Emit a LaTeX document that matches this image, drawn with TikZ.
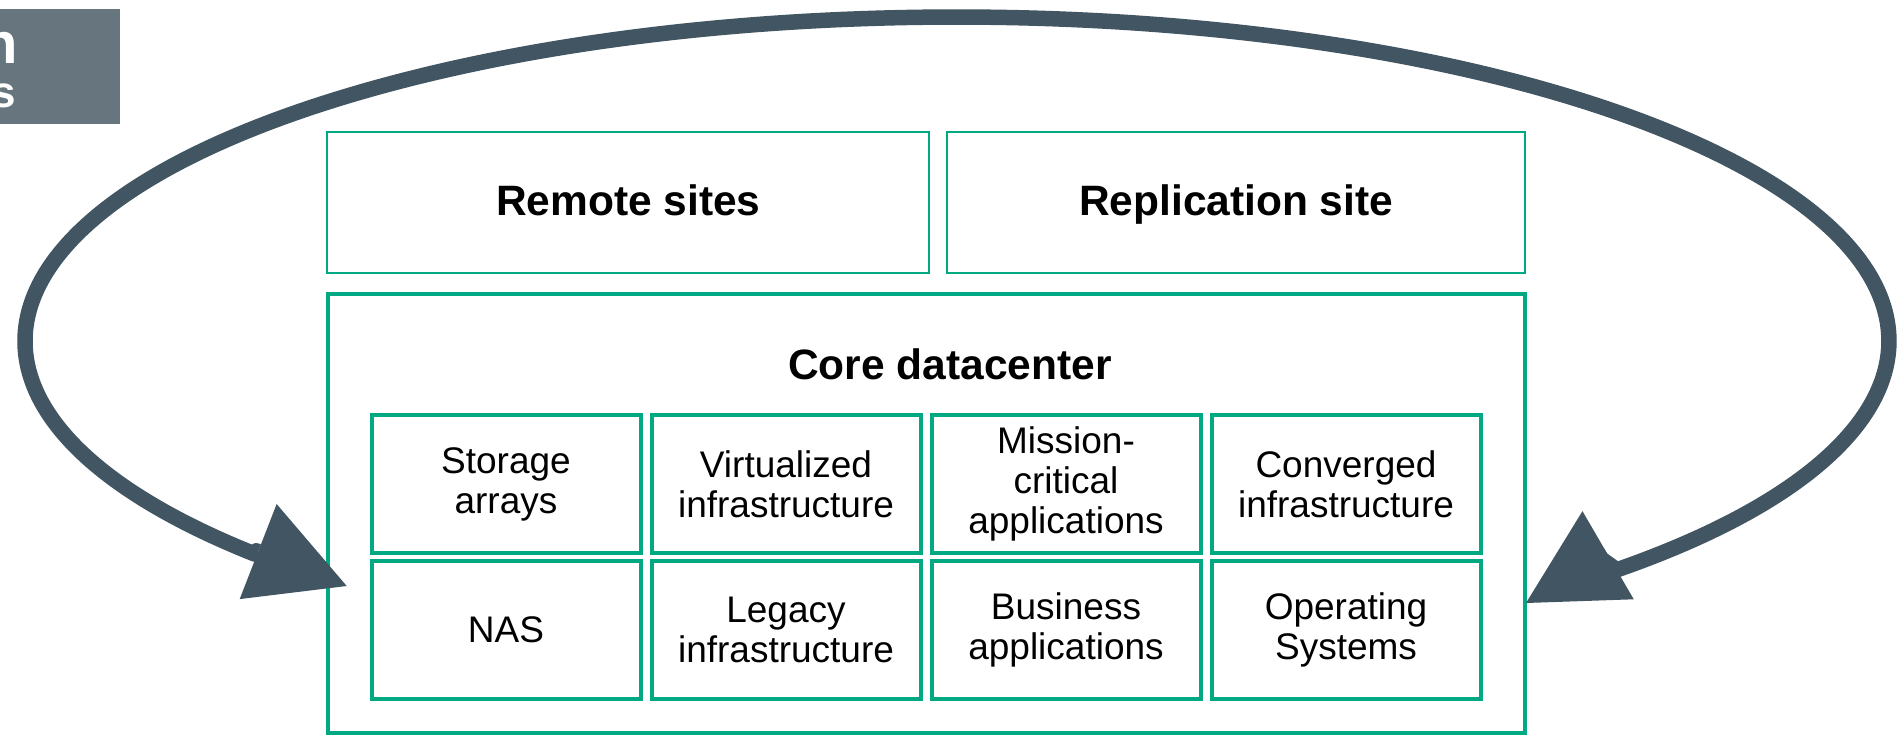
\documentclass[tikz,border=0pt]{standalone}
\usepackage{fontspec}
\setmainfont{Liberation Sans}
\usetikzlibrary{arrows.meta}
\definecolor{hpegreen}{HTML}{01A982}
\definecolor{slate}{HTML}{425563}
\definecolor{tagray}{HTML}{67757E}
\begin{document}
\begin{tikzpicture}[x=0.5pt,y=0.5pt,
  sitebox/.style={draw=hpegreen, line width=1pt, inner sep=0pt, text depth=2.7pt, font=\fontsize{21.25}{24}\selectfont\bfseries},
  corebox/.style={draw=hpegreen, line width=2pt, inner sep=0pt},
  titletext/.style={inner sep=0pt, font=\fontsize{21.25}{24}\selectfont\bfseries},
  cellbox/.style={draw=hpegreen, line width=2pt, inner sep=0pt, minimum width=134.5pt, minimum height=69pt, align=center, font=\fontsize{18.5}{20}\selectfont},
  tagtext/.style={inner sep=0pt, anchor=base east, text=white},
  loopline/.style={draw=slate, line width=7.75pt, line join=round,
    {Triangle[length=47.5pt,width=51pt,line width=0pt]}-{Triangle[length=47.5pt,width=51pt,line width=0pt]}}
]
\useasboundingbox (0,0) rectangle (1901,-734);

% partial title tag at top left
\node[fill=tagray, inner sep=0pt, minimum width=60pt, minimum height=57.5pt] (tag) at (60,-66.5) {};
\node[tagtext, font=\fontsize{29}{30}\selectfont\bfseries] (tagA) at (18,-63) {n};
\node[tagtext, font=\fontsize{22}{24}\selectfont\bfseries] (tagB) at (16.5,-107) {s};

% top boxes
\node[sitebox, minimum width=301pt, minimum height=70.8pt] (remote) at (628.3,-202.5) {Remote sites};
\node[sitebox, minimum width=288.85pt, minimum height=70.8pt] (repl) at (1236.15,-202.5) {Replication site};

% core datacenter
\node[corebox, minimum width=598.6pt, minimum height=219.35pt] (core) at (926.4,-513.65) {};
\node[titletext] (coretitle) at (950,-364) {Core datacenter};

\node[cellbox] (c11) at (506,-484.3) {Storage\\arrays};
\node[cellbox] (c12) at (786,-484.3) {Virtualized\\infrastructure};
\node[cellbox] (c13) at (1066,-484.3) {Mission-\\critical\\applications};
\node[cellbox] (c14) at (1346,-484.3) {Converged\\infrastructure};
\node[cellbox] (c21) at (506,-629.75) {NAS};
\node[cellbox] (c22) at (786,-629.75) {Legacy\\infrastructure};
\node[cellbox] (c23) at (1066,-629.75) {Business\\applications};
\node[cellbox] (c24) at (1346,-629.75) {Operating\\Systems};

% looping double arrow
\coordinate (ltip) at (346.7,-586);
\coordinate (lbase) at (256.2,-550.8);
\coordinate (lmeet) at (254.9,-554.1);
\coordinate (rbase) at (1601.6,-559);
\coordinate (rtip) at (1526,-603);
\draw[loopline] (ltip) -- (lbase) -- (lmeet)
  arc[start angle=221.12, end angle=-44.94, x radius=466pt, y radius=162pt]
  -- (rbase) -- (rtip);
\end{tikzpicture}
\end{document}
